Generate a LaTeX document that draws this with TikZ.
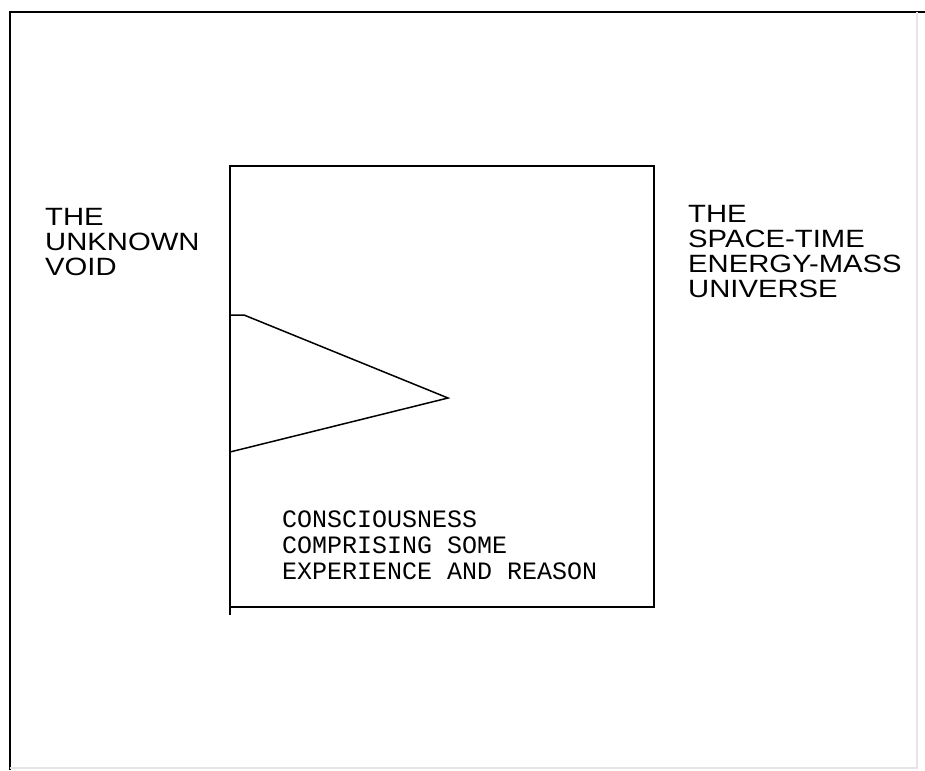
\documentclass[tikz,border=0pt]{standalone}
\usepackage{fontspec}
\setmainfont{Liberation Sans}[FakeStretch=1.17]
\newfontfamily\plotfont{Liberation Mono}
\usetikzlibrary{positioning}
\tikzset{label text/.style={anchor=north west,align=left,inner sep=0pt,font=\fontsize{25}{25}\selectfont},plot text/.style={anchor=north west,align=left,inner sep=0pt,font=\plotfont\fontsize{25}{26}\selectfont},frame/.style={line width=2.6pt},edge/.style={line width=1.8pt}}

\begin{document}
\begin{tikzpicture}[x=1pt,y=-1pt]
\useasboundingbox (0,0) rectangle (925,770);
\draw[frame] (10,770) -- (10,12) -- (925,12);
\draw[frame,black!10] (917,12) -- (917,768) -- (10,768);
\draw[edge] (230,615) -- (230,166) -- (654,166) -- (654,607) -- (230,607);
\draw[edge,line width=1.5pt] (230,315) -- (244,315) -- (448,398) -- (230,452);
\node[label text] (void) at (45,208) {THE\\UNKNOWN\\VOID};
\node[label text] (universe) at (688,205) {THE\\SPACE-TIME\\ENERGY-MASS\\UNIVERSE};
\node[plot text] (mind) at (282,511) {CONSCIOUSNESS\\COMPRISING SOME\\EXPERIENCE AND REASON};
\end{tikzpicture}
\end{document}
